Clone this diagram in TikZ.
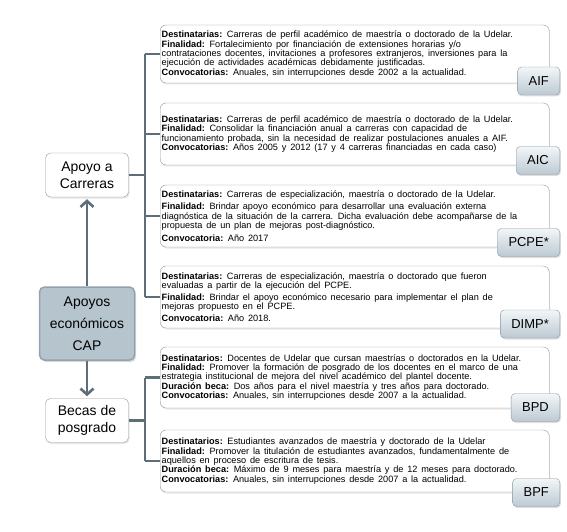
\documentclass[tikz,border=0pt]{standalone}
\usepackage{fontspec}
\setmainfont{Liberation Sans}
\usetikzlibrary{arrows.meta,shadows}

\definecolor{linkc}{HTML}{5E6E79}
\definecolor{boxedge}{HTML}{979797}
\definecolor{tagtop}{HTML}{F2F6F8}
\definecolor{tagbot}{HTML}{BCC9D2}
\definecolor{tagedge}{HTML}{8A99A3}
\definecolor{capfill}{HTML}{B6C4CD}
\definecolor{capedge}{HTML}{93A2AC}

\begin{document}
\begin{tikzpicture}[x=1bp, y=-1bp,
  infobox/.style={draw=boxedge, fill=white, rounded corners=6bp, anchor=west,
    text width=386bp, minimum height=60bp, align=left, inner xsep=1.5bp, inner ysep=2bp,
    font=\fontsize{9.2}{9.4}\selectfont,
    execute at begin node={\spaceskip=3.8bp plus 1bp minus 0.8bp\relax},
    drop shadow={opacity=0.18, shadow xshift=1bp, shadow yshift=-1.5bp}},
  tagbox/.style={draw=tagedge, top color=tagtop, bottom color=tagbot, rounded corners=4bp,
    anchor=east, minimum height=28bp, inner xsep=11bp, font=\fontsize{13}{15}\selectfont,
    drop shadow={opacity=0.25, shadow xshift=1bp, shadow yshift=-1.5bp}},
  catbox/.style={draw=boxedge, fill=white, rounded corners=5bp, align=center,
    minimum width=83bp, minimum height=44bp, font=\fontsize{14}{17}\selectfont,
    drop shadow={opacity=0.2, shadow xshift=1bp, shadow yshift=-1.5bp}},
  rootbox/.style={draw=capedge, line width=1.5bp, fill=capfill, rounded corners=5bp, align=center,
    minimum width=95bp, minimum height=73bp, font=\fontsize{14}{22}\selectfont,
    drop shadow={opacity=0.3, shadow xshift=1.5bp, shadow yshift=-2bp}},
  link/.style={draw=linkc, line width=2.6bp},
  arr/.style={link, -{Straight Barb[length=6bp,width=13bp]}, shorten >=2bp}
]

\useasboundingbox (0,0) rectangle (567,532);

\node[catbox] (apoyo) at (87,175) {Apoyo a\\Carreras};
\node[rootbox] (cap) at (87,323.5) {Apoyos\\económicos\\CAP};
\node[catbox] (becas) at (87,420.5) {Becas de\\posgrado};

\coordinate (trunkA) at (145,175);
\coordinate (trunkB) at (145,420.5);

\node[infobox, minimum height=58bp] (aif) at (160,54) {\textbf{Destinatarias:} Carreras de perfil académico de maestría o doctorado de la Udelar.\\
\textbf{Finalidad:} Fortalecimiento por financiación de extensiones horarias y/o\\
contrataciones docentes, invitaciones a profesores extranjeros, inversiones para la\\
ejecución de actividades académicas debidamente justificadas.\\
\textbf{Convocatorias:} Anuales, sin interrupciones desde 2002 a la actualidad.};

\node[infobox, minimum height=62bp] (aic) at (160,134) {\textbf{Destinatarias:} Carreras de perfil académico de maestría o doctorado de la Udelar.\\
\textbf{Finalidad:} Consolidar la financiación anual a carreras con capacidad de\\
funcionamiento probada, sin la necesidad de realizar postulaciones anuales a AIF.\\
\textbf{Convocatorias:} Años 2005 y 2012 (17 y 4 carreras financiadas en cada caso)};

\node[infobox, minimum height=62bp] (pcpe) at (160,216) {\textbf{Destinatarias:} Carreras de especialización, maestría o doctorado de la Udelar.\\[3bp]
\textbf{Finalidad:} Brindar apoyo económico para desarrollar una evaluación externa\\
diagnóstica de la situación de la carrera. Dicha evaluación debe acompañarse de la\\
propuesta de un plan de mejoras post-diagnóstico.\\[3bp]
\textbf{Convocatoria:} Año 2017};

\node[infobox, minimum height=62bp] (dimp) at (160,297) {\textbf{Destinatarias:} Carreras de especialización, maestría o doctorado que fueron\\
evaluadas a partir de la ejecución del PCPE.\\[2bp]
\textbf{Finalidad:} Brindar el apoyo económico necesario para implementar el plan de\\
mejoras propuesto en el PCPE.\\[2bp]
\textbf{Convocatoria:} Año 2018.};

\node[infobox, minimum height=61bp] (bpd) at (160,377.5) {\textbf{Destinatarios:} Docentes de Udelar que cursan maestrías o doctorados en la Udelar.\\
\textbf{Finalidad:} Promover la formación de posgrado de los docentes en el marco de una\\
estrategia institucional de mejora del nivel académico del plantel docente.\\
\textbf{Duración beca:} Dos años para el nivel maestría y tres años para doctorado.\\
\textbf{Convocatorias:} Anuales, sin interrupciones desde 2007 a la actualidad.};

\node[infobox, minimum height=62bp] (bpf) at (160,461) {\textbf{Destinatarios:} Estudiantes avanzados de maestría y doctorado de la Udelar\\
\textbf{Finalidad:} Promover la titulación de estudiantes avanzados, fundamentalmente de\\
aquellos en proceso de escritura de tesis.\\
\textbf{Duración beca:} Máximo de 9 meses para maestría y de 12 meses para doctorado.\\
\textbf{Convocatorias:} Anuales, sin interrupciones desde 2007 a la actualidad.};

\node[tagbox] (aiftag) at (560,81) {AIF};
\node[tagbox] (aictag) at (560,160.5) {AIC};
\node[tagbox] (pcpetag) at (560,242.5) {PCPE*};
\node[tagbox] (dimptag) at (560,324) {DIMP*};
\node[tagbox] (bpdtag) at (560,407.5) {BPD};
\node[tagbox] (bpftag) at (560,492.5) {BPF};

\draw[link] (apoyo.east) -- (trunkA);
\draw[link] (trunkA |- aif.west) -- (trunkA |- dimp.west);
\foreach \n in {aif,aic,pcpe,dimp}
  \draw[link] (trunkA |- \n.west) -- (\n.west);

\draw[link] (becas.east) -- (trunkB);
\draw[link] (trunkB |- bpd.west) -- (trunkB |- bpf.west);
\foreach \n in {bpd,bpf}
  \draw[link] (trunkB |- \n.west) -- (\n.west);

\draw[arr] (cap.north) -- (apoyo.south);
\draw[arr] (cap.south) -- (becas.north);

\end{tikzpicture}
\end{document}
